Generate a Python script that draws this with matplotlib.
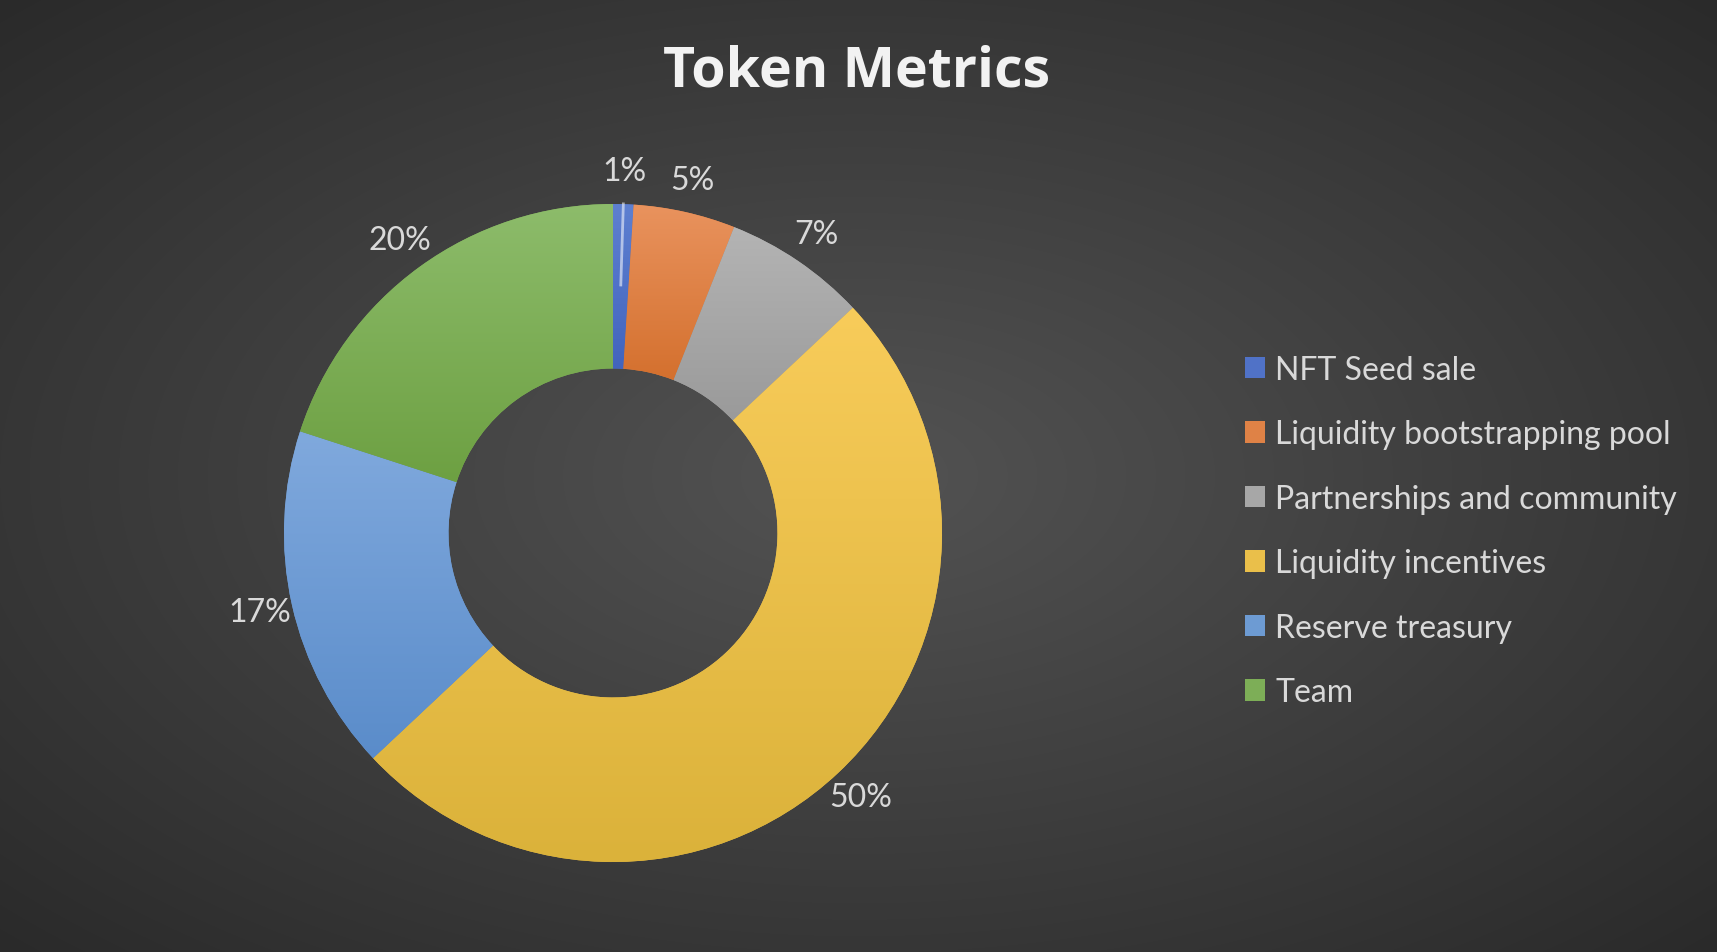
import numpy as np
import matplotlib
matplotlib.use("Agg")
import matplotlib.pyplot as plt
from matplotlib.colors import to_rgb

# -----------------------------------------------------------------------------
# data
categories = ["NFT Seed sale", "Liquidity bootstrapping pool", "Partnerships and community",
              "Liquidity incentives", "Reserve treasury", "Team"]
shares = [1, 5, 7, 50, 17, 20]

# gradient colours per slice (top of slice -> bottom of slice)
top_colors = ["#5e80d1", "#e9935e", "#b4b4b4", "#f8cc5a", "#80a9dd", "#8dbc6b"]
bottom_colors = ["#4264bd", "#d4702e", "#9a9a9a", "#dbb23a", "#5a8cca", "#6da042"]

plt.rcParams['font.family'] = ['Lato', 'DejaVu Sans']

W, H = 1717, 953
fig = plt.figure(figsize=(W / 100, H / 100), dpi=100)

# -----------------------------------------------------------------------------
# radial background
bg = fig.add_axes([0, 0, 1, 1], zorder=-10)
yy, xx = np.mgrid[0:H, 0:W]
d = np.sqrt(((xx - 0.5 * W) / (0.5 * W)) ** 2 + ((yy - 0.5 * H) / (0.5 * H)) ** 2) / np.sqrt(2)
c_in, c_out = np.array(to_rgb("#535353")), np.array(to_rgb("#2a2a2a"))
img = c_in[None, None, :] + np.clip(d, 0, 1)[..., None] * (c_out - c_in)[None, None, :]
bg.imshow(img, aspect='auto', interpolation='bilinear')
bg.axis('off')

# -----------------------------------------------------------------------------
# donut
cx, cy, R = 613, 419, 329          # centre / radius in pixels
lim = 1.25
side = 2 * lim * R
ax = fig.add_axes([(cx - side / 2) / W, (cy - side / 2) / H, side / W, side / H])
ax.set_facecolor('none')

mid_colors = [tuple((np.array(to_rgb(t)) + np.array(to_rgb(b))) / 2) for t, b in zip(top_colors, bottom_colors)]

wedges, texts, autotexts = ax.pie(
    shares, colors=mid_colors, startangle=90, counterclock=False,
    wedgeprops=dict(width=0.5, linewidth=0),
    autopct='%1.0f%%', pctdistance=1.1,
    textprops=dict(color='#d9d9d9', fontsize=23))

# vertical gradient inside each wedge (over its own bounding box)
for w, t, b in zip(wedges, top_colors, bottom_colors):
    ext = w.get_path().get_extents()
    ct, cb = np.array(to_rgb(t)), np.array(to_rgb(b))
    f = np.linspace(0, 1, 256)[:, None, None]
    grad = ct[None, None, :] + f * (cb - ct)[None, None, :]
    im = ax.imshow(grad, extent=(ext.x0, ext.x1, ext.y0, ext.y1), origin='upper',
                   aspect='auto', zorder=w.get_zorder() + 0.1, interpolation='bilinear')
    im.set_clip_path(w)

# leader line for the tiny slice
w0 = wedges[0]
ang = np.deg2rad((w0.theta1 + w0.theta2) / 2)
ax.plot([0.75 * np.cos(ang), 1.005 * np.cos(ang)], [0.75 * np.sin(ang), 1.005 * np.sin(ang)],
        color='white', alpha=0.55, lw=2, zorder=5, solid_capstyle='butt')

ax.set_xlim(-lim, lim)
ax.set_ylim(-lim, lim)
ax.set_aspect('equal')
ax.axis('off')

# -----------------------------------------------------------------------------
# title and legend
fig.text(857 / W, 1 - 72 / H, "Token Metrics", ha='center', va='center',
         fontsize=40, fontweight='bold', color='#f2f2f2', family=['Open Sans', 'DejaVu Sans'])

leg = fig.legend(wedges, categories, loc='center left',
                 bbox_to_anchor=(1245 / W, 1 - 532 / H), frameon=False,
                 fontsize=23, labelcolor='#d9d9d9', handlelength=0.64, handleheight=0.64,
                 handletextpad=0.3, labelspacing=1.08, borderpad=0, borderaxespad=0)

fig.savefig("out.png", dpi=100, facecolor='#333333')
